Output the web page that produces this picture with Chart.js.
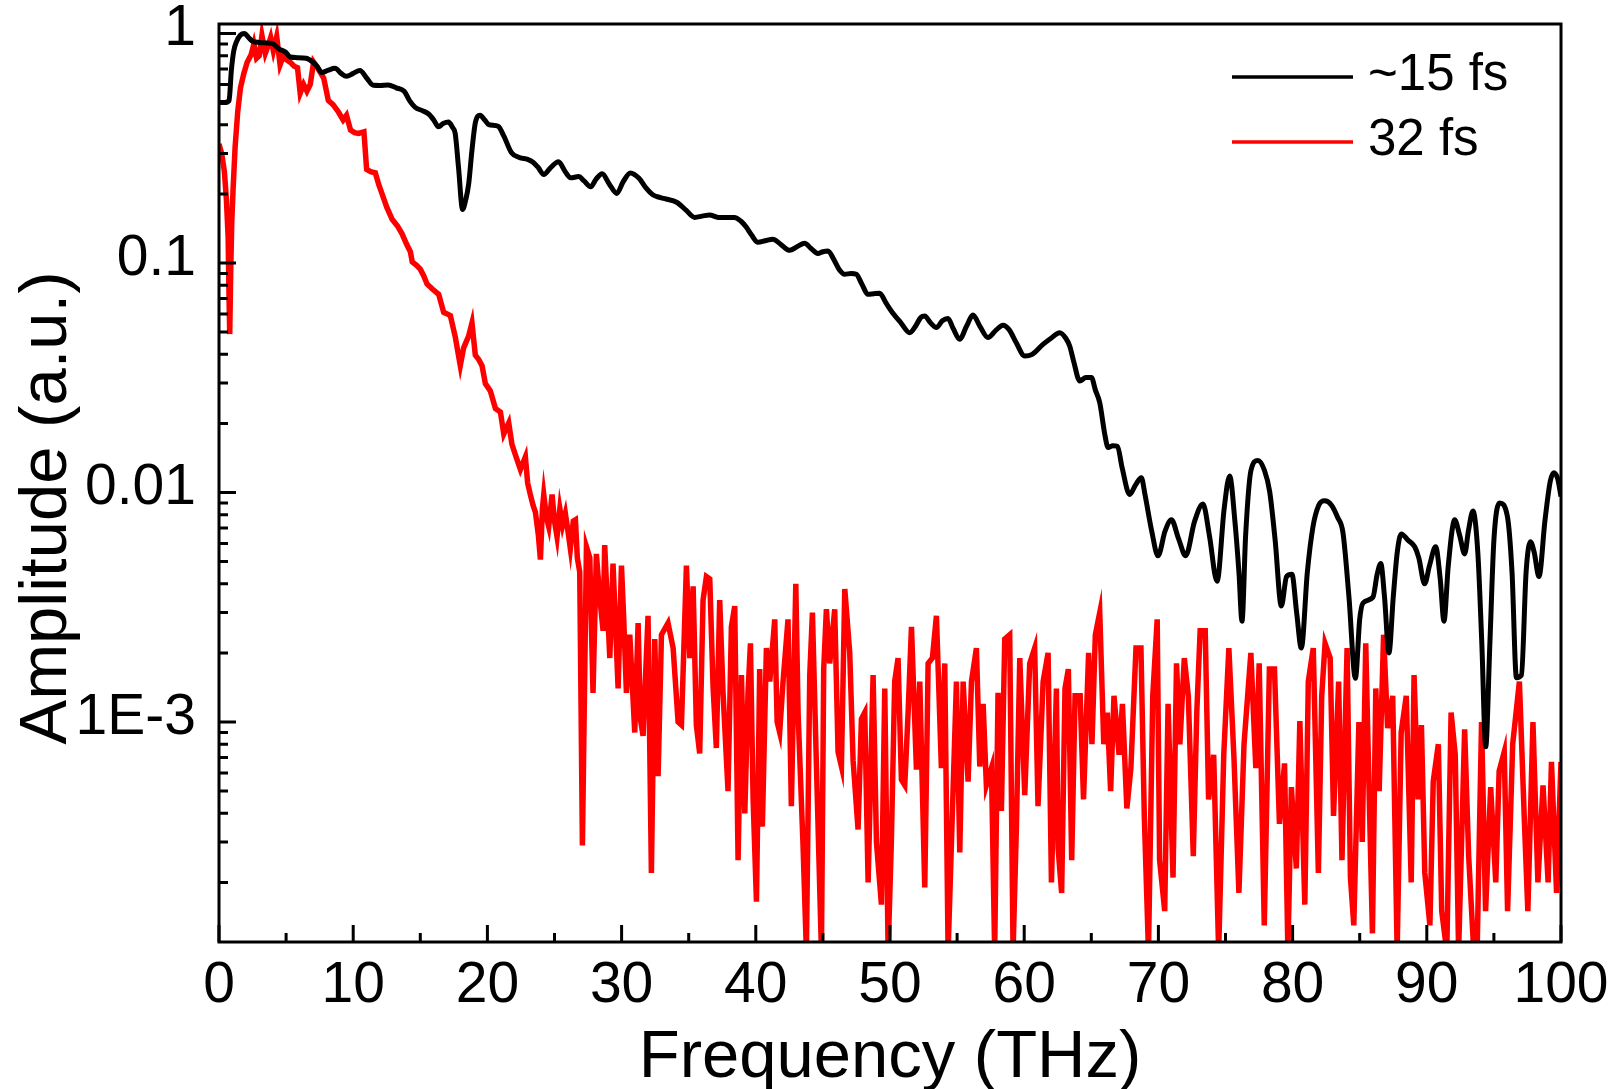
<!DOCTYPE html>
<html>
<head>
<meta charset="utf-8">
<title>Amplitude spectrum</title>
<script src="https://cdn.jsdelivr.net/npm/chart.js@4.4.1/dist/chart.umd.min.js"></script>
<style>
  html, body { margin: 0; padding: 0; background: #fff; }
  #chart { display: block; }
</style>
</head>
<body>
<canvas id="chart" width="1620" height="1089"></canvas>
<script>
// ~15 fs pulse spectrum
const freqBlack = [
    0, 0.4, 0.75, 0.92, 1.1, 1.3, 1.6, 1.9, 2.2, 2.5, 3.0, 3.5, 3.95, 4.5, 4.95, 5.3, 5.8, 6.5, 7.0, 7.3,
    7.65, 8.1, 8.65, 9.1, 9.5, 10.0, 10.5, 11.0, 11.5, 12.0, 12.6, 13.2, 13.8, 14.2, 14.6, 15.2, 15.6, 16.0, 16.35, 16.7,
    17.1, 17.4, 17.6, 17.85, 18.15, 18.4, 18.6, 18.85, 19.1, 19.45, 19.8, 20.1, 20.8, 21.2, 21.8, 22.4, 23.0, 23.4, 23.8, 24.2,
    24.7, 25.3, 25.8, 26.2, 26.8, 27.2, 27.7, 28.1, 28.55, 29.1, 29.65, 30.1, 30.65, 31.3, 31.8, 32.3, 32.84, 33.3, 34.1, 34.8,
    35.45, 36.0, 36.56, 37.2, 38.4, 38.9, 39.3, 39.7, 40.16, 40.7, 41.28, 41.9, 42.52, 43.1, 43.64, 44.1, 44.63, 45.0, 45.38, 45.8,
    46.2, 46.62, 47.1, 47.49, 47.9, 48.36, 48.8, 49.23, 49.7, 50.22, 50.8, 51.47, 51.9, 52.3, 52.59, 53.0, 53.46, 53.9, 54.32, 54.7,
    55.19, 55.7, 56.18, 56.7, 57.3, 57.9, 58.42, 58.9, 59.4, 60.04, 60.6, 61.4, 62.0, 62.65, 63.1, 63.39, 63.7, 64.14, 64.6, 65.01,
    65.3, 65.63, 66.0, 66.25, 66.6, 66.95, 67.3, 67.86, 68.3, 68.73, 69.0, 69.5, 69.97, 70.5, 70.97, 71.5, 72.03, 72.7, 73.32, 73.8,
    74.37, 74.9, 75.31, 75.7, 76.0, 76.23, 76.5, 76.9, 77.42, 77.9, 78.29, 78.7, 79.16, 79.55, 79.95, 80.3, 80.65, 81.1, 81.52, 81.95,
    82.39, 82.9, 83.35, 83.75, 84.2, 84.68, 85.0, 85.25, 85.99, 86.3, 86.57, 86.85, 87.18, 87.5, 87.8, 88.1, 88.6, 89.1, 89.4, 89.84,
    90.2, 90.66, 91.0, 91.28, 91.6, 92.08, 92.45, 92.82, 93.1, 93.44, 93.8, 94.1, 94.39, 94.7, 95.0, 95.43, 96.0, 96.35, 96.68, 97.05,
    97.4, 97.72, 98.0, 98.36, 98.8, 99.2, 99.46, 99.75, 100
];
const ampBlack = [
    0.50, 0.50, 0.51, 0.69, 0.84, 0.92, 0.985, 1.0, 0.96, 0.925, 0.914, 0.91, 0.905, 0.855, 0.83, 0.79, 0.785, 0.78, 0.75, 0.72,
    0.676, 0.69, 0.705, 0.67, 0.651, 0.67, 0.69, 0.64, 0.595, 0.594, 0.596, 0.58, 0.56, 0.51, 0.478, 0.46, 0.447, 0.42, 0.392, 0.405,
    0.411, 0.39, 0.367, 0.26, 0.171, 0.19, 0.22, 0.31, 0.408, 0.44, 0.42, 0.401, 0.394, 0.36, 0.302, 0.288, 0.283, 0.275, 0.26, 0.243,
    0.26, 0.276, 0.25, 0.235, 0.238, 0.228, 0.215, 0.232, 0.245, 0.22, 0.201, 0.225, 0.247, 0.234, 0.213, 0.199, 0.193, 0.19, 0.184, 0.17,
    0.158, 0.16, 0.162, 0.158, 0.158, 0.152, 0.143, 0.132, 0.123, 0.125, 0.127, 0.12, 0.1136, 0.118, 0.122, 0.116, 0.110, 0.112, 0.1128, 0.104,
    0.094, 0.0893, 0.09, 0.0893, 0.081, 0.073, 0.0735, 0.0738, 0.067, 0.0604, 0.055, 0.0497, 0.053, 0.058, 0.0587, 0.055, 0.0523, 0.056, 0.0573, 0.052,
    0.0465, 0.053, 0.0593, 0.053, 0.0473, 0.051, 0.0535, 0.051, 0.045, 0.0393, 0.040, 0.0442, 0.047, 0.0497, 0.047, 0.0435, 0.037, 0.0306, 0.0317, 0.0317,
    0.028, 0.0246, 0.018, 0.0157, 0.016, 0.0159, 0.0128, 0.0098, 0.0108, 0.0116, 0.0098, 0.0068, 0.0053, 0.0068, 0.0076, 0.0063, 0.0053, 0.0075, 0.0089, 0.0065,
    0.0041, 0.0085, 0.0118, 0.0075, 0.0045, 0.00275, 0.0065, 0.0125, 0.0138, 0.0125, 0.0101, 0.0062, 0.0032, 0.0043, 0.0044, 0.003, 0.0021, 0.0045, 0.0071, 0.0088,
    0.0092, 0.0088, 0.0078, 0.0067, 0.0035, 0.00155, 0.0028, 0.0033, 0.0035, 0.0044, 0.0049, 0.0035, 0.002, 0.0035, 0.0055, 0.0066, 0.0062, 0.0058, 0.0052, 0.004,
    0.0048, 0.0058, 0.0042, 0.00275, 0.0048, 0.0076, 0.0065, 0.0054, 0.0068, 0.0083, 0.0055, 0.0022, 0.00078, 0.0022, 0.0062, 0.009, 0.0079, 0.0045, 0.00156, 0.0016,
    0.0045, 0.0061, 0.0055, 0.0043, 0.0075, 0.0112, 0.0122, 0.0115, 0.0096
];

// 32 fs pulse spectrum
const freqRed = [
    0, 0.2, 0.4, 0.55, 0.68, 0.75, 0.8, 0.87, 0.95, 1.05, 1.2, 1.4, 1.6, 1.85, 2.1, 2.4, 2.6, 2.8, 3.0, 3.2,
    3.45, 3.7, 3.85, 4.05, 4.3, 4.55, 4.8, 5.0, 5.3, 5.6, 5.85, 6.05, 6.3, 6.55, 6.8, 7.05, 7.4, 7.8, 8.15, 8.5,
    8.9, 9.25, 9.5, 9.8, 10.1, 10.4, 10.8, 11.0, 11.3, 11.65, 11.9, 12.15, 12.5, 12.9, 13.3, 13.64, 14.0, 14.26, 14.4, 14.7,
    15.0, 15.25, 15.5, 15.9, 16.37, 16.74, 17.0, 17.24, 17.61, 17.98, 18.23, 18.6, 18.85, 19.1, 19.35, 19.6, 19.85, 20.22, 20.6, 20.97,
    21.22, 21.59, 21.83, 22.1, 22.46, 22.83, 23.0, 23.2, 23.4, 23.58, 23.8, 23.95, 24.1, 24.2, 24.4, 24.57, 24.82, 25.0, 25.19, 25.4,
    25.6, 25.81, 26.0, 26.18, 26.4, 26.56, 26.7, 26.88, 27.08, 27.38, 27.63, 27.87, 28.12, 28.37, 28.62, 28.74, 29.12, 29.36, 29.74, 29.99,
    30.16, 30.36, 30.61, 30.98, 31.23, 31.4, 31.6, 31.97, 32.22, 32.47, 32.72, 32.97, 33.46, 33.84, 34.21, 34.46, 34.83, 35.08, 35.33, 35.57,
    35.82, 36.07, 36.32, 36.57, 36.82, 37.06, 37.31, 37.56, 37.93, 38.18, 38.43, 38.68, 38.93, 39.18, 39.42, 39.6, 39.8, 40.05, 40.29, 40.49,
    40.79, 41.04, 41.41, 41.59, 41.78, 42.03, 42.4, 42.65, 42.98, 43.15, 43.52, 43.77, 44.02, 44.22, 44.52, 44.89, 45.06, 45.26, 45.51, 45.88,
    46.13, 46.38, 46.63, 47.0, 47.25, 47.62, 47.87, 48.12, 48.37, 48.74, 48.99, 49.36, 49.61, 49.86, 50.1, 50.35, 50.6, 50.85, 51.1, 51.35,
    51.6, 51.97, 52.22, 52.59, 52.84, 53.16, 53.46, 53.83, 54.08, 54.33, 54.58, 54.95, 55.2, 55.45, 55.82, 56.07, 56.44, 56.69, 56.94, 57.18,
    57.56, 57.8, 58.05, 58.3, 58.55, 58.92, 59.17, 59.42, 59.67, 60.04, 60.41, 60.78, 61.03, 61.41, 61.78, 62.03, 62.4, 62.53, 62.79, 63.04,
    63.29, 63.54, 63.79, 64.17, 64.42, 64.8, 65.05, 65.3, 65.63, 65.93, 66.19, 66.44, 66.69, 67.07, 67.32, 67.65, 67.95, 68.33, 68.7, 68.95,
    69.26, 69.58, 69.91, 70.09, 70.47, 70.72, 71.09, 71.35, 71.6, 71.93, 72.23, 72.6, 72.86, 73.11, 73.49, 73.74, 74.12, 74.49, 74.87, 75.25,
    75.63, 76.0, 76.38, 76.89, 77.26, 77.51, 77.89, 78.27, 78.65, 79.02, 79.4, 79.65, 79.91, 80.28, 80.54, 80.91, 81.17, 81.54, 81.92, 82.17,
    82.42, 82.8, 83.05, 83.43, 83.68, 84.06, 84.31, 84.56, 84.94, 85.19, 85.45, 85.7, 85.95, 86.2, 86.45, 86.78, 87.08, 87.46, 87.79, 88.09,
    88.47, 88.84, 89.05, 89.35, 89.6, 89.85, 90.23, 90.48, 90.86, 91.11, 91.49, 91.81, 92.12, 92.37, 92.82, 93.12, 93.5, 93.75, 94.08, 94.38,
    94.76, 95.14, 95.39, 95.77, 96.02, 96.4, 96.9, 97.28, 97.53, 97.91, 98.28, 98.66, 99.04, 99.29, 99.67, 100
];
const ampRed = [
    0.33, 0.30, 0.25, 0.19, 0.13, 0.07, 0.049, 0.09, 0.15, 0.21, 0.32, 0.46, 0.58, 0.67, 0.75, 0.81, 0.9, 0.78, 0.8, 0.98,
    0.82, 0.9, 0.96, 0.84, 0.97, 0.73, 0.8, 0.77, 0.75, 0.72, 0.71, 0.55, 0.6, 0.56, 0.6, 0.75, 0.7, 0.64, 0.51, 0.49,
    0.455, 0.42, 0.44, 0.38, 0.37, 0.367, 0.373, 0.256, 0.25, 0.247, 0.22, 0.2, 0.175, 0.155, 0.145, 0.134, 0.12, 0.112, 0.101, 0.098,
    0.094, 0.088, 0.081, 0.077, 0.073, 0.061, 0.06, 0.059, 0.0475, 0.0357, 0.0427, 0.048, 0.0548, 0.0397, 0.038, 0.0357, 0.0298, 0.0277, 0.0232, 0.0224,
    0.018, 0.0201, 0.0162, 0.0145, 0.0126, 0.0143, 0.011, 0.0098, 0.0088, 0.0082, 0.0065, 0.0051, 0.0085, 0.0098, 0.0078, 0.0071, 0.0098, 0.0075, 0.0064, 0.0085,
    0.0072, 0.0081, 0.0068, 0.0057, 0.0075, 0.0076, 0.0052, 0.0045, 0.00029, 0.0058, 0.0052, 0.00134, 0.0054, 0.0035, 0.0025, 0.0059, 0.0019, 0.0049, 0.0014, 0.0048,
    0.0028, 0.00134, 0.0024, 0.0009, 0.0027, 0.00103, 0.00087, 0.0029, 0.00022, 0.0023, 0.00058, 0.0024, 0.0027, 0.0021, 0.0010, 0.00097, 0.0048, 0.0019, 0.0039, 0.00097,
    0.00073, 0.0034, 0.0043, 0.0042, 0.0014, 0.00077, 0.0034, 0.00134, 0.0005, 0.0026, 0.0032, 0.00025, 0.0016, 0.0004, 0.00134, 0.0022, 0.00046, 0.000165, 0.0017, 0.00035,
    0.0021, 0.0015, 0.0028, 0.001, 0.0009, 0.0015, 0.0028, 0.00043, 0.004, 0.0011, 0.00029, 0.0001, 0.0016, 0.003, 0.00064, 0.0001, 0.0017, 0.0031, 0.0018, 0.0031,
    0.00074, 0.00064, 0.0038, 0.002, 0.00068, 0.00034, 0.00103, 0.0011, 0.0002, 0.0016, 0.0003, 0.00016, 0.0014, 0.0001, 0.0003, 0.0015, 0.0019, 0.00056, 0.00053, 0.0011,
    0.0026, 0.00062, 0.0015, 0.00019, 0.0018, 0.0019, 0.0029, 0.00063, 0.0018, 0.0001, 0.0003, 0.0015, 0.00027, 0.0015, 0.00055, 0.0015, 0.0021, 0.00064, 0.0012, 0.00053,
    0.00063, 0.0001, 0.00134, 0.00041, 0.0023, 0.0024, 0.0001, 0.00035, 0.0019, 0.00048, 0.0018, 0.0021, 0.00043, 0.0015, 0.002, 0.0002, 0.0014, 0.00028, 0.00018, 0.0014,
    0.0017, 0.00025, 0.0013, 0.0013, 0.00046, 0.002, 0.0008, 0.0024, 0.003, 0.0008, 0.0011, 0.0005, 0.0013, 0.00072, 0.0012, 0.00042, 0.00063, 0.0021, 0.0021, 0.00039,
    0.0001, 0.0013, 0.0028, 0.00025, 0.00015, 0.0012, 0.00021, 0.0018, 0.0008, 0.0019, 0.0013, 0.00026, 0.0011, 0.0025, 0.0025, 0.00046, 0.00072, 0.0001, 0.00072, 0.0021,
    0.0007, 0.00018, 0.0008, 0.002, 0.00063, 0.0018, 0.00013, 0.0017, 0.0017, 0.00036, 0.00066, 0.0001, 0.00052, 0.00023, 0.00101, 0.00016, 0.0015, 0.0021, 0.00022, 0.0013,
    0.0022, 0.0019, 0.00039, 0.0015, 0.00025, 0.0021, 0.00021, 0.00013, 0.001, 0.0003, 0.0022, 0.0005, 0.00012, 0.0014, 0.0005, 0.0024, 0.00094, 0.0013, 0.0001, 0.0009,
    0.0013, 0.0002, 0.0016, 0.00046, 0.00097, 0.00022, 0.00013, 0.00055, 0.0008, 0.00015, 0.0001, 0.0011, 0.00072, 0.0001, 0.00093, 0.00026, 0.0001, 0.0001, 0.001, 0.00015,
    0.00052, 0.0002, 0.00061, 0.00074, 0.00015, 0.0008, 0.0015, 0.00036, 0.00015, 0.001, 0.0002, 0.00053, 0.0002, 0.00067, 0.00018, 0.00067
];

const seriesLabels = ["~15 fs", "32 fs"];
const seriesColors = ["#000000", "#ff0000"];
const xTickValues = [0, 10, 20, 30, 40, 50, 60, 70, 80, 90, 100];
const xMinorTicks = [5, 15, 25, 35, 45, 55, 65, 75, 85, 95];
const yTickValues = [1, 0.1, 0.01, 0.001];
const yTickLabels = ["1", "0.1", "0.01", "1E-3"];

const FONT = "'Liberation Sans', Arial, Helvetica, sans-serif";

function toPoints(xs, ys) {
    return xs.map((x, i) => ({ x: x, y: ys[i] }));
}

// inward tick marks, frame, axis titles and legend
const framePlugin = {
    id: "frame",
    afterDatasetsDraw(chart) {
        const { ctx, chartArea: a, scales: { x, y } } = chart;
        ctx.save();
        ctx.strokeStyle = "#000";
        ctx.lineWidth = 3;
        ctx.beginPath();
        for (const v of xTickValues) {
            const px = x.getPixelForValue(v);
            ctx.moveTo(px, a.bottom);
            ctx.lineTo(px, a.bottom - 17);
        }
        for (const v of xMinorTicks) {
            const px = x.getPixelForValue(v);
            ctx.moveTo(px, a.bottom);
            ctx.lineTo(px, a.bottom - 9);
        }
        for (let d = -4; d <= 0; d++) {
            for (let k = 1; k <= 9; k++) {
                const v = k * Math.pow(10, d);
                if (v < y.min || v > y.max) continue;
                const py = y.getPixelForValue(v);
                ctx.moveTo(a.left, py);
                ctx.lineTo(a.left + (k === 1 ? 17 : 9), py);
            }
        }
        ctx.stroke();
        ctx.strokeRect(a.left, a.top, a.right - a.left, a.bottom - a.top);
        ctx.restore();
    },
    afterDraw(chart) {
        const { ctx, chartArea: a } = chart;
        ctx.save();
        ctx.fillStyle = "#000";
        ctx.font = "67px " + FONT;
        ctx.textAlign = "center";
        ctx.textBaseline = "alphabetic";
        ctx.fillText("Frequency (THz)", (a.left + a.right) / 2, 1077);
        ctx.translate(66, 508);
        ctx.rotate(-Math.PI / 2);
        ctx.fillText("Amplitude (a.u.)", 0, 0);
        ctx.restore();

        ctx.save();
        ctx.lineWidth = 3.5;
        ctx.font = "51px " + FONT;
        ctx.textAlign = "left";
        ctx.textBaseline = "middle";
        chart.data.datasets.forEach((ds, i) => {
            const ly = 77 + i * 65;
            ctx.strokeStyle = ds.borderColor;
            ctx.beginPath();
            ctx.moveTo(1232, ly);
            ctx.lineTo(1353, ly);
            ctx.stroke();
            ctx.fillStyle = "#000";
            ctx.fillText(ds.label, 1368, ly - 1);
        });
        ctx.restore();
    }
};

new Chart(document.getElementById("chart"), {
    type: "line",
    data: {
        datasets: [
            {
                label: seriesLabels[0],
                data: toPoints(freqBlack, ampBlack),
                borderColor: seriesColors[0],
                borderWidth: 5,
                pointRadius: 0,
                cubicInterpolationMode: "monotone",
                clip: 0,
            },
            {
                label: seriesLabels[1],
                data: toPoints(freqRed, ampRed),
                borderColor: seriesColors[1],
                borderWidth: 5.5,
                pointRadius: 0,
                tension: 0,
                clip: 0,
            },
        ],
    },
    options: {
        responsive: false,
        animation: false,
        devicePixelRatio: 1,
        layout: { padding: { top: 24, right: 59, bottom: 0, left: 0 } },
        plugins: {
            legend: { display: false },
            tooltip: { enabled: false },
        },
        scales: {
            x: {
                type: "linear",
                min: 0,
                max: 100,
                afterBuildTicks: (s) => { s.ticks = xTickValues.map((v) => ({ value: v })); },
                afterFit: (s) => {
                    s.height = 147;
                    s.paddingLeft = 0;
                    s.paddingRight = 0;
                },
                grid: { display: false, drawTicks: false },
                border: { display: false },
                ticks: {
                    color: "#000",
                    font: { family: FONT, size: 57 },
                    padding: 10,
                    maxRotation: 0,
                    autoSkip: false,
                },
            },
            y: {
                type: "logarithmic",
                min: 1.1e-4,
                max: 1.1,
                afterBuildTicks: (s) => { s.ticks = yTickValues.map((v) => ({ value: v })); },
                afterFit: (s) => {
                    s.width = 219;
                    s.paddingTop = 0;
                    s.paddingBottom = 0;
                },
                grid: { display: false, drawTicks: false },
                border: { display: false },
                ticks: {
                    color: "#000",
                    font: { family: FONT, size: 57 },
                    padding: 23,
                    labelOffset: -4,
                    autoSkip: false,
                    callback: (v) => yTickLabels[yTickValues.indexOf(v)],
                },
            },
        },
    },
    plugins: [framePlugin],
});
</script>
</body>
</html>
